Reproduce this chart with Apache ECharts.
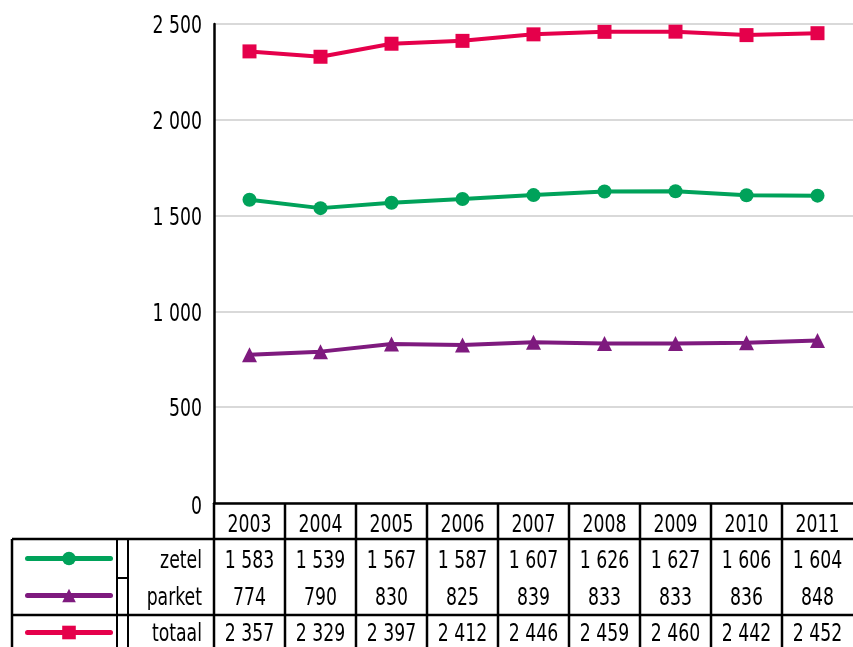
<!DOCTYPE html>
<html>
<head>
<meta charset="utf-8">
<script src="https://cdn.jsdelivr.net/npm/echarts@6/dist/echarts.min.js"></script>
<style>
html,body{margin:0;padding:0;background:#fff;}
#c{width:853px;height:647px;}
</style>
</head>
<body>
<div id="c"></div>
<script>
const years = ['2003','2004','2005','2006','2007','2008','2009','2010','2011'];
const zetel = [1583,1539,1567,1587,1607,1626,1627,1606,1604];
const parket = [774,790,830,825,839,833,833,836,848];
const totaal = [2357,2329,2397,2412,2446,2459,2460,2442,2452];
const yTicks = [0,500,1000,1500,2000,2500];
const rowNames = ['zetel','parket','totaal'];
const colors = {zetel:'#00A25A', parket:'#7E1A7E', totaal:'#E5004B'};
const FONT = '"DejaVu Sans Condensed", "Liberation Sans Narrow", sans-serif';
const SX = 0.8;
const DY = 3;

function fmt(v){ return String(v).replace(/\B(?=(\d{3})+(?!\d))/g, ' '); }

const chart = echarts.init(document.getElementById('c'));

function legendFor(name, top){
  return {
    data:[name], left:25, top:top, itemWidth:83, itemHeight:17,
    selectedMode:false, formatter:function(){return '';},
    textStyle:{fontSize:1}, padding:0,
    lineStyle:{width:5, cap:'round'}
  };
}

const option = {
  animation:false,
  textStyle:{fontFamily:FONT},
  grid:{left:214, right:0, top:24, bottom:144, containLabel:false, outerBoundsMode:'none'},
  legend:[legendFor('zetel', 550), legendFor('parket', 587), legendFor('totaal', 624)],
  xAxis:{
    type:'category', data:years, boundaryGap:true,
    axisLine:{lineStyle:{color:'#000', width:2.5}},
    axisTick:{inside:true, length:11, interval:0, lineStyle:{color:'#000', width:2}},
    axisLabel:{show:false},
    splitLine:{show:false}
  },
  yAxis:{
    type:'value', min:yTicks[0], max:yTicks[yTicks.length-1], interval:yTicks[1]-yTicks[0],
    axisLine:{show:true, lineStyle:{color:'#000', width:2.5}},
    axisTick:{show:false},
    axisLabel:{show:false},
    splitLine:{lineStyle:{color:'#d9d9d9', width:2}}
  },
  series:[
    {name:'totaal', type:'line', data:totaal, symbol:'rect', symbolSize:14,
     lineStyle:{width:4, color:colors.totaal}, itemStyle:{color:colors.totaal}},
    {name:'zetel', type:'line', data:zetel, symbol:'circle', symbolSize:14,
     lineStyle:{width:4, color:colors.zetel}, itemStyle:{color:colors.zetel}},
    {name:'parket', type:'line', data:parket, symbol:'triangle', symbolSize:15,
     lineStyle:{width:4, color:colors.parket}, itemStyle:{color:colors.parket}}
  ]
};
chart.setOption(option);

// Build labels and the data table from the arrays, positioned through the axes
const centers = years.map((y,i)=>chart.convertToPixel({xAxisIndex:0}, i));
const bw = centers.length>1 ? centers[1]-centers[0] : 71;
const axisY = chart.convertToPixel({yAxisIndex:0}, 0);
const rowY = {zetel:559, parket:596, totaal:632};
const rowData = {zetel:zetel, parket:parket, totaal:totaal};
const g = [];
const line = (x1,y1,x2,y2,w)=>g.push({type:'line', silent:true, z:10,
  shape:{x1:x1,y1:y1,x2:x2,y2:y2}, style:{stroke:'#000', lineWidth:w||2}});
const text = (t,x,y,align)=>g.push({type:'text', silent:true, z:10, x:x, y:y + DY, scaleX:SX,
  style:{text:t, x:0, y:0, align:align, verticalAlign:'middle', font:'24px '+FONT, fill:'#000'}});

// y-axis tick labels
yTicks.forEach(function(v){ text(fmt(v), 202, chart.convertToPixel({yAxisIndex:0}, v) + (v===0?2:0), 'right'); });
// year header
years.forEach(function(y,i){ text(y, centers[i], axisY + 20, 'center'); });

// horizontal borders
line(12,539,853,539,2.5);
line(12,615,853,615,2.5);
// left border
line(12,539,12,647,2.5);
// bracket lines
line(117,539,117,647,2);
line(128,539,128,647,2);
line(117,578,128,578,2);
// column verticals
for(let i=0;i<centers.length;i++){
  const x = centers[i]-bw/2;
  line(x,axisY,x,647,2.5);
}
// rows
rowNames.forEach(function(n){
  text(n, 202, rowY[n], 'right');
  rowData[n].forEach(function(v,i){ text(fmt(v), centers[i], rowY[n], 'center'); });
});
chart.setOption({graphic:g});
</script>
</body>
</html>
